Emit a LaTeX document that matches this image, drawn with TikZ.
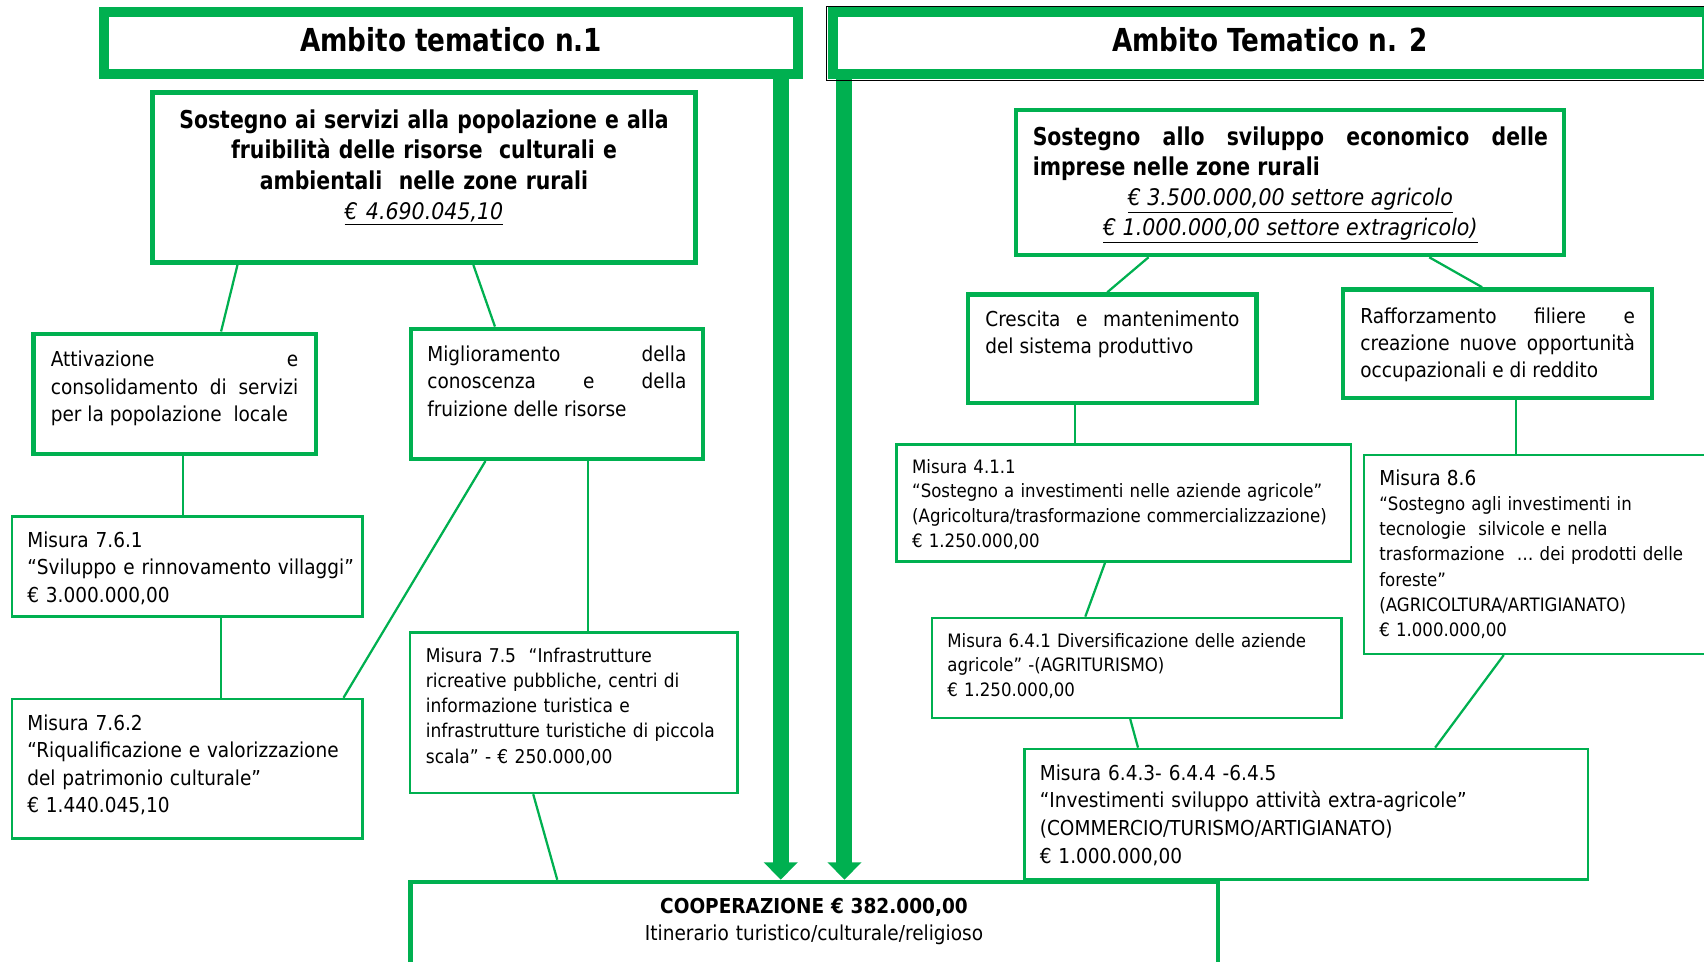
\documentclass[tikz,border=0pt]{standalone}
\usepackage{fontspec}
\setmainfont{DejaVu Sans}[FakeStretch=0.9]
\newfontfamily\condfont{DejaVu Sans}[FakeStretch=0.83]
\usetikzlibrary{arrows.meta,calc}
\definecolor{ogreen}{HTML}{00B050}
\newcommand{\fsz}[2]{\fontsize{#1}{#2}\selectfont}

\tikzset{
  headbox/.style={draw=ogreen, line width=2mm, inner sep=0},
  thickbox/.style={draw=ogreen, line width=0.9mm, inner sep=0},
  thinbox/.style={draw=ogreen, line width=0.5mm, inner sep=0},
  link/.style={draw=ogreen, line width=0.45mm},
  bar/.style={draw=ogreen, line width=3.2mm, -{Triangle[width=6.6mm,length=3.5mm]}},
  titletxt/.style={anchor=base, inner sep=0, font=\condfont\bfseries\fsz{18}{22}},
  btxt/.style={anchor=base, inner sep=0, align=center, font=\condfont\bfseries\fsz{14}{17.4}},
  jtxt/.style={anchor=base west, inner sep=0, align=justify, font=\fsz{11.7}{15.8}},
  mtxt/.style={anchor=base west, inner sep=0, align=left},
}

\begin{document}
\begin{tikzpicture}[x=0.2mm, y=-0.2mm]
\useasboundingbox (0,0) rectangle (1704,961);

%% HEADERS
% ambito 1
\node[headbox, minimum width=138.6mm, minimum height=12.4mm] (amb1) at (451,43.3) {};
\node[titletxt] (amb1t) at (451,51) {Ambito tematico n.1};
% ambito 2
\node[headbox, minimum width=174.8mm, minimum height=12.4mm] (amb2) at (1269.7,43.3) {};
\node[titletxt] (amb2t) at (1270,51) {Ambito Tematico n. 2};

%% AMBITO 1
% sostegno servizi
\node[thickbox, minimum width=108.56mm, minimum height=34.08mm] (serv) at (424.1,177.5) {};
\node[btxt, text width=104mm] (servt) at (424,128) {Sostegno ai servizi alla popolazione e alla\\ fruibilità delle risorse\ \ culturali e\\ ambientali\ \ nelle zone rurali\\ {\rmfamily\mdseries\itshape\fsz{13}{17.4}\underline{€ 4.690.045,10}}};

% attivazione
\node[thickbox, minimum width=56.46mm, minimum height=24.02mm] (attiv) at (174.9,393.8) {};
\node[jtxt, text width=49.46mm] (attivt) at (50.5,366.3) {Attivazione e\linebreak consolidamento di servizi\linebreak per la popolazione\ \ locale};

% miglioramento
\node[thickbox, minimum width=58.48mm, minimum height=26mm] (migl) at (557,393.8) {};
\node[jtxt, text width=51.8mm] (miglt) at (427,361) {Miglioramento della\linebreak conoscenza e della\linebreak fruizione delle risorse};

% misura 7.6.1
\node[thinbox, minimum width=70.1mm, minimum height=20.02mm] (m761) at (187.45,566.35) {};
\node[mtxt, text width=68mm, font=\fsz{11.7}{15.9}] (m761t) at (27,547) {Misura 7.6.1\\ “Sviluppo e rinnovamento villaggi”\\ € 3.000.000,00};

% misura 7.6.2
\node[thinbox, minimum width=70.1mm, minimum height=27.94mm] (m762) at (187.45,768.85) {};
\node[mtxt, text width=68mm, font=\fsz{11.7}{15.6}] (m762t) at (27,730.3) {Misura 7.6.2\\ “Riqualificazione e valorizzazione\\ del patrimonio culturale”\\ € 1.440.045,10};

% misura 7.5
\node[thinbox, minimum width=65.54mm, minimum height=32.14mm] (m75) at (573.85,712.65) {};
\node[mtxt, text width=62mm, font=\fsz{10.8}{14.4}] (m75t) at (425.5,662) {Misura 7.5\ \ “Infrastrutture\\ ricreative pubbliche, centri di\\ informazione turistica e\\ infrastrutture turistiche di piccola\\ scala” - € 250.000,00};

%% AMBITO 2
% sostegno sviluppo
\node[thickbox, minimum width=109.6mm, minimum height=29mm] (svil) at (1290,182.5) {};
\node[jtxt, text width=103.04mm] (svilt) at (1032.4,145.7) {{\condfont\bfseries\fsz{14}{17}Sostegno allo sviluppo economico delle\linebreak imprese nelle zone rurali\par}{\centering\itshape\fsz{13}{17}\underline{€ 3.500.000,00 settore agricolo}\par\underline{€ 1.000.000,00 settore extragricolo)}\par}};

% crescita
\node[thickbox, minimum width=57.62mm, minimum height=21.7mm] (cresc) at (1112.25,348.75) {};
\node[jtxt, text width=50.8mm, font=\fsz{11.7}{15.75}] (cresct) at (985,326) {Crescita e mantenimento\linebreak del sistema produttivo};

% rafforzamento
\node[thickbox, minimum width=61.72mm, minimum height=21.66mm] (raff) at (1497.5,343.65) {};
\node[jtxt, text width=54.92mm, font=\fsz{11.7}{15.6}] (rafft) at (1360,323) {Rafforzamento filiere e\linebreak creazione nuove opportunità\linebreak occupazionali e di reddito};

% misura 4.1.1
\node[thinbox, minimum width=90.82mm, minimum height=23.4mm] (m411) at (1123.75,503) {};
\node[mtxt, text width=88mm, font=\fsz{10.5}{14}] (m411t) at (911.8,473.2) {Misura 4.1.1\\ “Sostegno a investimenti nelle aziende agricole”\\ (Agricoltura/trasformazione commercializzazione)\\ € 1.250.000,00};

% misura 8.6
\node[thinbox, minimum width=71.16mm, minimum height=39.72mm] (m86) at (1542.1,554.5) {};
\node[mtxt, text width=64mm, font=\fsz{10.5}{14.3}] (m86t) at (1379,485.5) {{\fsz{11.7}{14.3}Misura 8.6}\\ “Sostegno agli investimenti in\\ tecnologie\ \ silvicole e nella\\ trasformazione\ \ … dei prodotti delle\\ foreste”\\ (AGRICOLTURA/ARTIGIANATO)\\ € 1.000.000,00};

% misura 6.4.1
\node[thinbox, minimum width=81.92mm, minimum height=19.98mm] (m641) at (1136.8,667.85) {};
\node[mtxt, text width=80mm, font=\fsz{10.5}{14}] (m641t) at (947,647.2) {Misura 6.4.1 Diversificazione delle aziende\\ agricole” -(AGRITURISMO)\\ € 1.250.000,00};

% misura 6.4.3
\node[thinbox, minimum width=112.68mm, minimum height=26.12mm] (m643) at (1306.1,814.2) {};
\node[mtxt, text width=108mm, font=\fsz{11.7}{15.7}] (m643t) at (1039.5,780.3) {Misura 6.4.3- 6.4.4 -6.4.5\\ “Investimenti sviluppo attività extra-agricole”\\ (COMMERCIO/TURISMO/ARTIGIANATO)\\ € 1.000.000,00};

%% COOPERAZIONE
\node[thickbox, minimum width=161.5mm, minimum height=23.6mm] (coop) at (814.25,941) {};
\node[anchor=base, inner sep=0, align=center, text width=150mm, font=\fsz{11.7}{15.1}] (coopt) at (814,913.7) {\textbf{COOPERAZIONE € 382.000,00}\\ Itinerario turistico/culturale/religioso};

% big arrows
\coordinate (bar1) at ($(amb1.south west)!0.969!(amb1.south east)$);
\coordinate (bar2) at ($(amb2.south west)!0.019!(amb2.south east)$);
\draw[bar] (bar1) -- (bar1 |- coop.north);
\draw[bar] (bar2) -- (bar2 |- coop.north);
\draw[black, line width=0.3mm] ($(amb2.north west)+(-1,-1)$) rectangle ($(amb2.south east)+(1,1)$);

%% CONNECTORS
\draw[link] ($(serv.south west)!0.159!(serv.south east)$) -- ($(attiv.north west)!0.661!(attiv.north east)$);
\draw[link] ($(serv.south west)!0.59!(serv.south east)$) -- ($(migl.north west)!0.291!(migl.north east)$);
\coordinate (c1) at ($(attiv.south west)!0.527!(attiv.south east)$);
\draw[link] (c1) -- (c1 |- m761.north);
\coordinate (c2) at ($(m761.south west)!0.595!(m761.south east)$);
\draw[link] (c2) -- (c2 |- m762.north);
\draw[link] ($(migl.south west)!0.259!(migl.south east)$) -- ($(m762.north west)!0.942!(m762.north east)$);
\coordinate (c3) at ($(migl.south west)!0.604!(migl.south east)$);
\draw[link] (c3) -- (c3 |- m75.north);
\draw[link] ($(m75.south west)!0.377!(m75.south east)$) -- ($(coop.north west)!0.1835!(coop.north east)$);

\draw[link] ($(svil.south west)!0.244!(svil.south east)$) -- ($(cresc.north west)!0.483!(cresc.north east)$);
\draw[link] ($(svil.south west)!0.752!(svil.south east)$) -- ($(raff.north west)!0.451!(raff.north east)$);
\coordinate (c4) at ($(cresc.south west)!0.372!(cresc.south east)$);
\draw[link] (c4) -- (c4 |- m411.north);
\coordinate (c5) at ($(raff.south west)!0.559!(raff.south east)$);
\draw[link] (c5) -- (c5 |- m86.north);
\draw[link] ($(m411.south west)!0.459!(m411.south east)$) -- ($(m641.north west)!0.375!(m641.north east)$);
\draw[link] ($(m641.south west)!0.484!(m641.south east)$) -- ($(m643.north west)!0.203!(m643.north east)$);
\draw[link] ($(m86.south west)!0.393!(m86.south east)$) -- ($(m643.north west)!0.728!(m643.north east)$);

\end{tikzpicture}
\end{document}
